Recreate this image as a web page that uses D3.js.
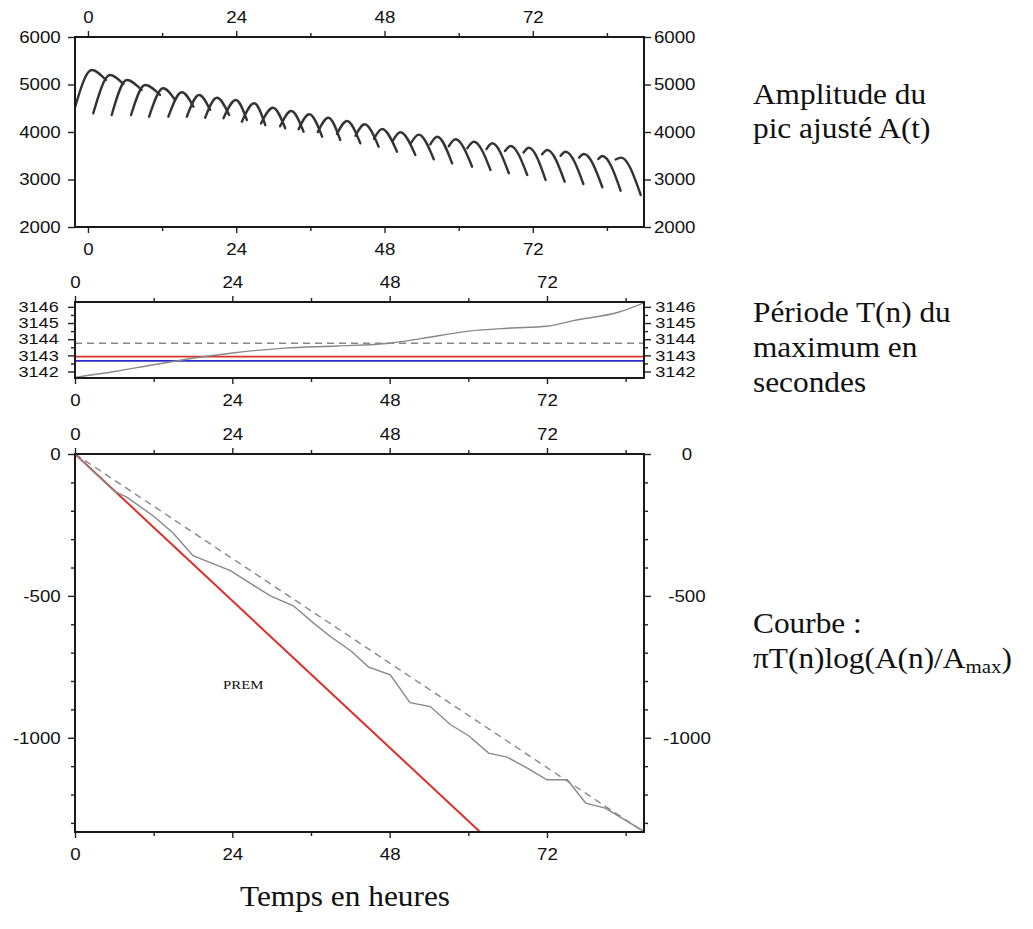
<!DOCTYPE html>
<html><head><meta charset="utf-8">
<script src="https://cdn.jsdelivr.net/npm/d3@7"></script>
<style>body{margin:0;background:#fff}svg{display:block}</style>
</head><body><svg id="c" width="1033" height="929"></svg>
<script>
// ---- data ----
const hourMajorTicks = [0, 24, 48, 72];
const hourMinorTicks = [12, 36, 60, 84];
const ampTicks = [2000, 3000, 4000, 5000, 6000];
const periodTicks = [3142, 3143, 3144, 3145, 3146];
const periodMinorTicks = [3142.5, 3143.5, 3144.5, 3145.5];
const curveTicks = [0, -500, -1000];
const curveMinorTicks = [-100, -200, -300, -400, -600, -700, -800, -900, -1100, -1200, -1300];

// top panel: fitted peak amplitude arcs (start, peak, end of each arc)
const arcStartHour = [-2.1, 0.86, 3.84, 6.97, 9.89, 13.01, 16.0, 18.96, 21.93, 24.91, 28.0, 31.1, 34.1, 37.2, 40.3, 43.3, 46.3, 49.3, 52.3, 55.4, 58.4, 61.4, 64.5, 67.5, 70.5, 73.5, 76.5, 79.5, 82.6, 85.4];
const arcStartAmp  = [4520, 4394, 4358, 4358, 4322, 4322, 4322, 4301, 4290, 4217, 4180, 4120, 4060, 4000, 3960, 3920, 3860, 3810, 3770, 3740, 3700, 3660, 3640, 3600, 3570, 3530, 3500, 3460, 3430, 3420];
const arcPeakHour  = [0.6, 3.57, 6.27, 9.24, 12.16, 15.19, 17.99, 20.86, 23.94, 26.9, 29.94, 32.9, 35.82, 38.9, 41.93, 44.78, 47.6, 50.57, 53.53, 56.52, 59.48, 62.45, 65.43, 68.4, 71.36, 74.34, 77.31, 80.28, 83.26, 86.3];
const arcPeakAmp   = [5305, 5200, 5095, 4989, 4920, 4836, 4779, 4722, 4674, 4604, 4512, 4442, 4373, 4301, 4232, 4162, 4063, 3994, 3945, 3901, 3847, 3796, 3762, 3705, 3670, 3621, 3585, 3537, 3495, 3460];
const arcEndHour   = [2.9, 5.72, 8.69, 11.67, 14.1, 17.07, 19.77, 22.85, 25.72, 28.7, 31.93, 34.9, 37.9, 40.84, 44.08, 47.05, 50.03, 52.99, 55.97, 58.94, 62.18, 65.15, 68.12, 71.1, 74.07, 77.16, 80.19, 83.26, 86.22, 89.47];
const arcEndAmp    = [5095, 5010, 4884, 4779, 4674, 4533, 4463, 4358, 4253, 4147, 4078, 4006, 3901, 3832, 3762, 3691, 3585, 3516, 3425, 3341, 3270, 3200, 3131, 3095, 2990, 2954, 2905, 2836, 2764, 2674];

// middle panel: period T(n)
const periodHours  = [0, 6, 12, 19, 24, 32, 40, 48, 53, 60, 66, 72, 76, 83, 86.8];
const periodValues = [3141.64, 3142.0, 3142.42, 3142.88, 3143.15, 3143.45, 3143.58, 3143.75, 3144.05, 3144.5, 3144.68, 3144.8, 3145.15, 3145.68, 3146.25];
const periodDashed = 3143.75;
const periodRed = 3142.92;
const periodBlue = 3142.66;

// bottom panel: pi T(n) log(A(n)/Amax)
const curveHours  = [0, 6.1, 7.9, 12.1, 15.0, 18.0, 19.6, 23.7, 26.7, 29.8, 33.3, 36.4, 39.0, 42.2, 44.8, 48.1, 51.1, 54.2, 57.3, 60.0, 63.1, 65.9, 69.0, 72.0, 75.1, 77.9, 80.9, 86.8];
const curveValues = [0, -133, -152, -221, -279, -358, -373, -411, -455, -500, -535, -596, -644, -696, -751, -778, -876, -890, -954, -992, -1054, -1068, -1107, -1148, -1148, -1230, -1248, -1330];
const premHours = [0, 61.8];
const premValues = [0, -1332];
const fitHours = [0, 86.8];
const fitValues = [0, -1332];

// ---- drawing ----
const svg = d3.select("#c");
const SX = 1.1;
const SANS = "'Liberation Sans', Arial, Helvetica, sans-serif";
const SERIF = "'Liberation Serif', 'Times New Roman', serif";

const panels = [
  {x0: 75, x1: 644, y0: 37, y1: 227, xd: [-2.1, 90], yd: [2000, 6000]},
  {x0: 75, x1: 644, y0: 302, y1: 378, xd: [0, 86.8], yd: [3141.6, 3146.3]},
  {x0: 75, x1: 644, y0: 454, y1: 832, xd: [0, 86.8], yd: [-1332, 0]}
];
panels.forEach((p, i) => {
  p.x = d3.scaleLinear().domain(p.xd).range([p.x0, p.x1]);
  p.y = d3.scaleLinear().domain(p.yd).range([p.y1, p.y0]);
  svg.append("clipPath").attr("id", "clip" + i).append("rect")
    .attr("x", p.x0).attr("y", p.y0).attr("width", p.x1 - p.x0).attr("height", p.y1 - p.y0);
  p.g = svg.append("g").attr("clip-path", `url(#clip${i})`);
});

function styler(size, sx) {
  return g => {
    g.select(".domain").remove();
    g.selectAll("line").attr("stroke", "#222").attr("stroke-width", 1.4);
    g.selectAll("text").attr("font-family", SANS).attr("font-size", size).attr("fill", "#111")
      .attr("transform", `scale(${sx},1)`);
  };
}
const styleAxis = styler(17, SX);
const fmt = d => String(d);

function drawAxes(p, yMajor, yMinor, rightPad, rightAnchor, ySize, ySX) {
  const yStyle = styler(ySize || 17, ySX || SX);
  svg.append("g").attr("transform", `translate(0,${p.y0})`)
    .call(d3.axisTop(p.x).tickValues(hourMajorTicks).tickSize(6).tickPadding(8).tickFormat(fmt)).call(styleAxis);
  svg.append("g").attr("transform", `translate(0,${p.y0})`)
    .call(d3.axisTop(p.x).tickValues(hourMinorTicks).tickSize(4).tickFormat("")).call(styleAxis);
  svg.append("g").attr("transform", `translate(0,${p.y1})`)
    .call(d3.axisBottom(p.x).tickValues(hourMajorTicks).tickSize(6).tickPadding(10).tickFormat(fmt)).call(styleAxis);
  svg.append("g").attr("transform", `translate(0,${p.y1})`)
    .call(d3.axisBottom(p.x).tickValues(hourMinorTicks).tickSize(4).tickFormat("")).call(styleAxis);
  svg.append("g").attr("transform", `translate(${p.x0},0)`)
    .call(d3.axisLeft(p.y).tickValues(yMajor).tickSize(7).tickPadding(6).tickFormat(fmt)).call(yStyle);
  const r = svg.append("g").attr("transform", `translate(${p.x1},0)`)
    .call(d3.axisRight(p.y).tickValues(yMajor).tickSize(7).tickPadding(rightPad).tickFormat(fmt)).call(yStyle);
  if (rightAnchor) r.selectAll("text").attr("text-anchor", rightAnchor);
  if (yMinor) {
    svg.append("g").attr("transform", `translate(${p.x0},0)`)
      .call(d3.axisLeft(p.y).tickValues(yMinor).tickSize(4).tickFormat("")).call(styleAxis);
    svg.append("g").attr("transform", `translate(${p.x1},0)`)
      .call(d3.axisRight(p.y).tickValues(yMinor).tickSize(4).tickFormat("")).call(styleAxis);
  }
}

// --- panel 1: arcs ---
const P1 = panels[0];
const arcLine = d3.line().x(d => P1.x(d[0])).y(d => P1.y(d[1])).curve(d3.curveMonotoneX);
arcPeakHour.forEach((ph, i) => {
  const pts = [[arcStartHour[i], arcStartAmp[i]], [ph, arcPeakAmp[i]], [arcEndHour[i], arcEndAmp[i]]];
  P1.g.append("path").attr("d", arcLine(pts)).attr("fill", "none")
    .attr("stroke", "#333").attr("stroke-width", 2.4).attr("stroke-linecap", "round");
});

// --- panel 2: period ---
const P2 = panels[1];
function hline(p, v, color, w, dash) {
  const l = p.g.append("line").attr("x1", p.x0).attr("x2", p.x1).attr("y1", p.y(v)).attr("y2", p.y(v))
    .attr("stroke", color).attr("stroke-width", w);
  if (dash) l.attr("stroke-dasharray", dash);
}
hline(P2, periodDashed, "#888", 1.3, "7,5");
hline(P2, periodRed, "#e0302c", 1.8);
hline(P2, periodBlue, "#2b2bd0", 1.8);
const pLine = d3.line().x((d, i) => P2.x(periodHours[i])).y(d => P2.y(d)).curve(d3.curveMonotoneX);
P2.g.append("path").attr("d", pLine(periodValues)).attr("fill", "none").attr("stroke", "#888").attr("stroke-width", 1.4);

// --- panel 3: curve ---
const P3 = panels[2];
const mk = (hs) => d3.line().x((d, i) => P3.x(hs[i])).y(d => P3.y(d));
P3.g.append("path").attr("d", mk(fitHours)(fitValues)).attr("fill", "none").attr("stroke", "#888").attr("stroke-width", 1.4).attr("stroke-dasharray", "7,5");
P3.g.append("path").attr("d", mk(premHours)(premValues)).attr("fill", "none").attr("stroke", "#dc2f2b").attr("stroke-width", 2);
P3.g.append("path").attr("d", mk(curveHours)(curveValues)).attr("fill", "none").attr("stroke", "#888").attr("stroke-width", 1.4);

// axes & frames
drawAxes(P1, ampTicks, null, 2);
drawAxes(P2, periodTicks, periodMinorTicks, 2, null, 14.5, 1.25);
drawAxes(P3, curveTicks, curveMinorTicks, 32, "middle");
panels.forEach(p => {
  svg.append("rect").attr("x", p.x0).attr("y", p.y0).attr("width", p.x1 - p.x0).attr("height", p.y1 - p.y0)
    .attr("fill", "none").attr("stroke", "#1a1a1a").attr("stroke-width", 2);
});

// texts
function label(x, y, str, size, anchor) {
  return svg.append("text").attr("transform", `translate(${x},${y}) scale(${SX},1)`)
    .attr("font-family", SERIF).attr("font-size", size).attr("fill", "#111")
    .attr("text-anchor", anchor || "start").text(str);
}
label(753, 104, "Amplitude du", 28.5);
label(753, 138, "pic ajusté A(t)", 28.5);
label(753, 322, "Période T(n) du", 28.5);
label(753, 357, "maximum en", 28.5);
label(753, 392, "secondes", 28.5);
label(753, 633, "Courbe :", 28.5);
const f = label(753, 668, "πT(n)log(A(n)/A", 28.5);
f.append("tspan").attr("font-size", 19).attr("dy", 5).text("max");
f.append("tspan").attr("dy", -5).text(")");
label(223, 689, "PREM", 13.5);
label(345, 906, "Temps en heures", 28.5, "middle");
</script></body></html>
